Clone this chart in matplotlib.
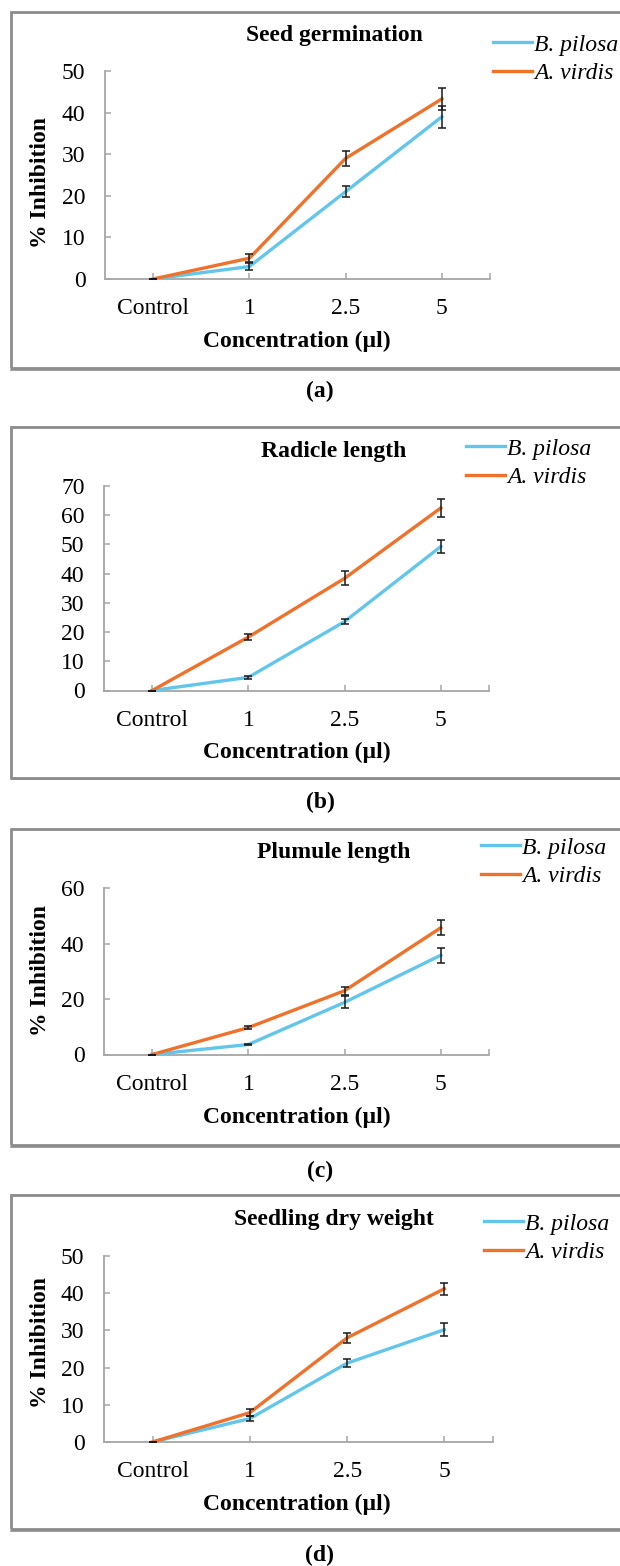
import matplotlib
matplotlib.use("Agg")
import matplotlib.pyplot as plt
from matplotlib.patches import Rectangle
from matplotlib.lines import Line2D

plt.rcParams['font.family'] = ['Liberation Serif', 'DejaVu Serif']

# data (% inhibition, mean and error)
categories = ['Control', '1', '2.5', '5']
series_names = ['B. pilosa', 'A. virdis']

seed_bp = [0, 3.0, 21.0, 39.0]
seed_bp_err = [0, 0.9, 1.4, 2.7]
seed_av = [0, 5.0, 29.0, 43.3]
seed_av_err = [0, 1.0, 1.8, 2.7]

rad_bp = [0, 4.5, 23.6, 49.3]
rad_bp_err = [0, 0.4, 1.0, 2.2]
rad_av = [0, 18.3, 38.4, 62.5]
rad_av_err = [0, 1.0, 2.4, 3.0]

plu_bp = [0, 3.6, 18.8, 35.8]
plu_bp_err = [0, 0.3, 2.2, 2.7]
plu_av = [0, 9.7, 23.0, 45.7]
plu_av_err = [0, 0.6, 1.5, 2.8]

dry_bp = [0, 6.3, 21.2, 30.2]
dry_bp_err = [0, 0.7, 1.0, 1.7]
dry_av = [0, 7.9, 28.0, 41.2]
dry_av_err = [0, 1.0, 1.3, 1.6]

titles = ['Seed germination', 'Radicle length', 'Plumule length', 'Seedling dry weight']
panel_tags = ['(a)', '(b)', '(c)', '(d)']
y_max = [50, 70, 60, 50]
y_step = [10, 10, 20, 10]
show_ylabel = [True, False, True, True]

BLUE = '#62C6EC'
ORANGE = '#F0712A'
FRAME = '#8c8c8c'
AXIS = '#a6a6a6'
FS = 17

W, H = 620, 1566
fig = plt.figure(figsize=(W / 100, H / 100), dpi=100)


def fx(px):
    return px / W


def fy(py):
    return 1 - py / H


# layout in pixels: axes left/right, y of top tick, y of zero, frame top/bottom,
# title baseline, legend top, legend left, xlabel baseline, tag baseline, ylabel centre
layout = [
    dict(l=105, r=490, top=71, zero=279, ft=12, fb=368, tb=41, lgt=34, lgl=493, xl=347, tag=397, yl=182),
    dict(l=104, r=489, top=486, zero=690.5, ft=427, fb=778, tb=457, lgt=438, lgl=466, xl=758, tag=808, yl=0),
    dict(l=104, r=489, top=888, zero=1054.5, ft=829, fb=1145, tb=858, lgt=837, lgl=481, xl=1123, tag=1177, yl=971),
    dict(l=104, r=493, top=1256, zero=1442, ft=1195, fb=1529, tb=1225, lgt=1213, lgl=484, xl=1510, tag=1561, yl=1342),
]

panels = [
    (seed_bp, seed_bp_err, seed_av, seed_av_err),
    (rad_bp, rad_bp_err, rad_av, rad_av_err),
    (plu_bp, plu_bp_err, plu_av, plu_av_err),
    (dry_bp, dry_bp_err, dry_av, dry_av_err),
]

x = list(range(len(categories)))

for i, (bp, bp_err, av, av_err) in enumerate(panels):
    L = layout[i]

    # grey frame round each panel (runs off the right edge)
    fig.add_artist(Rectangle((fx(11), fy(L['fb'])), 1.2, (L['fb'] - L['ft']) / H,
                             transform=fig.transFigure, fill=False,
                             edgecolor=FRAME, lw=2.0))
    fig.add_artist(Line2D([fx(11), 1], [fy(L['fb'] + 1.5)] * 2, transform=fig.transFigure,
                          color=FRAME, lw=1.2))

    ax = fig.add_axes([fx(L['l']), fy(L['zero']), (L['r'] - L['l']) / W, (L['zero'] - L['top']) / H])
    h1, = ax.plot(x, bp, color=BLUE, lw=2.4, label=series_names[0], zorder=3)
    h2, = ax.plot(x, av, color=ORANGE, lw=2.4, label=series_names[1], zorder=3)
    ax.errorbar(x, bp, yerr=bp_err, fmt='none', ecolor='#1a1a1a', elinewidth=1.1,
                capsize=3.2, capthick=1.1, zorder=4)
    ax.errorbar(x, av, yerr=av_err, fmt='none', ecolor='#1a1a1a', elinewidth=1.1,
                capsize=3.2, capthick=1.1, zorder=4)

    ax.set_xlim(-0.5, len(categories) - 0.5)
    ax.set_ylim(0, y_max[i])
    ax.set_xticks(x)
    ax.set_xticklabels(categories)
    ax.set_xticks([len(categories) - 0.5], minor=True)
    ax.set_yticks(range(0, y_max[i] + 1, y_step[i]))

    for s in ['top', 'right']:
        ax.spines[s].set_visible(False)
    for s in ['left', 'bottom']:
        ax.spines[s].set_color(AXIS)
        ax.spines[s].set_linewidth(1.3)
    ax.tick_params(axis='both', which='both', direction='in', length=4, width=1.1,
                   color=AXIS, labelsize=FS)
    ax.tick_params(axis='x', pad=14)
    ax.tick_params(axis='y', pad=14)
    ax.patch.set_alpha(0)

    fig.text(fx(334), fy(L['tb']), titles[i], ha='center', va='baseline',
             fontsize=FS, fontweight='bold')
    fig.text(fx(297), fy(L['xl']), 'Concentration (µl)', ha='center', va='baseline',
             fontsize=FS, fontweight='bold')
    fig.text(fx(320), fy(L['tag']), panel_tags[i], ha='center', va='baseline',
             fontsize=FS, fontweight='bold')
    if show_ylabel[i]:
        fig.text(fx(41), fy(L['yl']), '% Inhibition', ha='center', va='center',
                 rotation=90, fontsize=FS, fontweight='bold')

    fig.legend([h1, h2], series_names, loc='upper left',
               bbox_to_anchor=(fx(L['lgl']), fy(L['lgt'])), bbox_transform=fig.transFigure,
               frameon=False, prop=dict(style='italic', size=FS),
               handlelength=1.65, handletextpad=0.1, labelspacing=0.3,
               borderpad=0, borderaxespad=0)

fig.savefig('out.png', dpi=100, facecolor='white')
